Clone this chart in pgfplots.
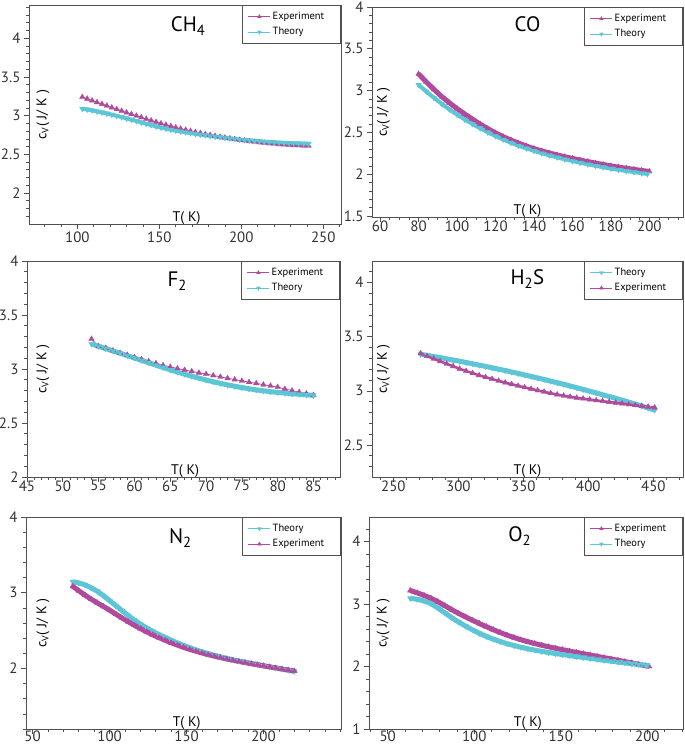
\documentclass[border=0pt]{standalone}
\usepackage{fontspec}
\setmainfont{PT Sans}
\usepackage{pgfplots}
\pgfplotsset{compat=1.18}
\definecolor{expc}{HTML}{B04A9C}
\definecolor{thc}{HTML}{5CC6D6}
\definecolor{framec}{HTML}{505050}
\pgfplotsset{
  panel/.style={
    scale only axis, anchor=south west,
    axis line style={framec, line width=0.8bp},
    tick pos=left, tick align=outside,
    major tick length=5bp, minor tick length=3bp,
    every tick/.style={framec, line width=0.7bp},
    tick label style={font=\fontsize{15}{15}\selectfont, text=black!80},
    /pgf/number format/assume math mode=true,
    legend style={at={(1,1)}, anchor=north east, draw=framec, line width=0.6bp,
      font=\fontsize{10.5}{11}\selectfont, inner xsep=6bp, inner ysep=5bp, row sep=2.5bp,
      cells={anchor=west}},
    legend image code/.code={\draw[mark repeat=2, mark phase=2] plot coordinates {(0bp,0bp) (11bp,0bp) (22bp,0bp)};},
    legend image post style={line width=0.6bp, mark size=2.2bp},
    clip=false,
  },
  exp/.style={color=expc, mark=triangle*, mark size=3.2bp, line width=1bp, mark options={line width=0.3bp}},
  th/.style={color=thc, mark=triangle*, mark size=3.2bp, line width=1bp, mark options={rotate=180, line width=0.3bp}},
}
\tikzset{
  ttl/.style={font=\fontsize{21}{21}\selectfont, anchor=base},
  ylab/.style={font=\fontsize{14}{14}\selectfont, rotate=90, anchor=center},
  xlab/.style={font=\fontsize{14}{14}\selectfont, anchor=base, yshift=2.5bp},
}
\newcommand{\LE}[1]{\makebox[60bp][l]{#1}}
\newcommand{\CV}{c\textsubscript{V}(\hspace{4bp}J/\hspace{4bp}K\hspace{4bp})}
\begin{document}
\begin{tikzpicture}
\path[use as bounding box] (0bp,0bp) rectangle (685bp,750bp);
% ---------------- CH4
\begin{axis}[panel, at={(29bp,526bp)}, width=312bp, height=219bp,
  xmin=70.5, xmax=260.8, ymin=1.6, ymax=4.43,
  xtick={100,150,200,250}, ytick={2,2.5,3,3.5,4},
  minor xtick={80,90,...,260}, minor ytick={1.7,1.8,...,4.41},
  xticklabel style={yshift=1bp}]
\addplot[exp] coordinates {(103,3.240) (106,3.218) (109,3.195) (112,3.173) (115,3.150) (118,3.128) (121,3.105) (124,3.083) (127,3.061) (130,3.040) (133,3.019) (136,2.998) (139,2.977) (142,2.957) (145,2.937) (148,2.918) (151,2.899) (154,2.881) (157,2.864) (160,2.847) (163,2.831) (166,2.816) (169,2.801) (172,2.787) (175,2.774) (178,2.761) (181,2.749) (184,2.737) (187,2.726) (190,2.715) (193,2.705) (196,2.695) (199,2.686) (202,2.677) (205,2.669) (208,2.661) (211,2.654) (214,2.647) (217,2.641) (220,2.635) (223,2.630) (226,2.626) (229,2.622) (232,2.618) (235,2.615) (238,2.612) (241,2.610)};
\addlegendentry{\LE{Experiment}}
\addplot[th, line width=4bp] coordinates {(103,3.090) (106,3.080) (109,3.068) (112,3.055) (115,3.042) (118,3.028) (121,3.013) (124,2.998) (127,2.982) (130,2.965) (133,2.948) (136,2.931) (139,2.913) (142,2.896) (145,2.879) (148,2.862) (151,2.846) (154,2.832) (157,2.819) (160,2.807) (163,2.796) (166,2.785) (169,2.775) (172,2.765) (175,2.756) (178,2.747) (181,2.738) (184,2.729) (187,2.721) (190,2.713) (193,2.705) (196,2.698) (199,2.691) (202,2.685) (205,2.679) (208,2.674) (211,2.669) (214,2.664) (217,2.660) (220,2.656) (223,2.652) (226,2.649) (229,2.646) (232,2.643) (235,2.641) (238,2.639) (241,2.637)};
\addlegendentry{\LE{Theory}}
\node[ttl] at (rel axis cs:0.51,1) [yshift=-27bp] {CH\textsubscript{4}};
\node[ylab] at (rel axis cs:0.045,0.5) {\CV};
\node[xlab] at (rel axis cs:0.505,0) {T( K)};
\end{axis}
% ---------------- CO
\begin{axis}[panel, at={(372bp,533bp)}, width=311bp, height=210bp,
  xmin=55.8, xmax=217.5, ymin=1.49, ymax=4.0,
  xtick={60,80,...,200}, ytick={1.5,2,...,4},
  minor xtick={60,65,...,215}, minor ytick={1.5,1.6,...,4.01},
  xticklabel style={yshift=5bp}]
\addplot[exp, line width=5bp] coordinates {(80,3.200) (84,3.105) (88,3.015) (92,2.930) (96,2.855) (100,2.785) (104,2.720) (108,2.660) (112,2.600) (116,2.545) (120,2.495) (124,2.450) (128,2.410) (132,2.372) (136,2.338) (140,2.307) (144,2.280) (148,2.255) (152,2.232) (156,2.210) (160,2.190) (164,2.170) (168,2.152) (172,2.134) (176,2.117) (180,2.101) (184,2.086) (188,2.072) (192,2.059) (196,2.046) (200,2.034)};
\addlegendentry{\LE{Experiment}}
\addplot[th, line width=4bp] coordinates {(80,3.070) (84,2.990) (88,2.915) (92,2.843) (96,2.776) (100,2.714) (104,2.656) (108,2.602) (112,2.551) (116,2.502) (120,2.457) (124,2.416) (128,2.378) (132,2.343) (136,2.311) (140,2.281) (144,2.253) (148,2.227) (152,2.203) (156,2.180) (160,2.159) (164,2.139) (168,2.120) (172,2.102) (176,2.085) (180,2.069) (184,2.054) (188,2.040) (192,2.027) (196,2.014) (199,2.004)};
\addlegendentry{\LE{Theory}}
\node[ttl] at (rel axis cs:0.50,1) [yshift=-25bp] {CO};
\node[ylab] at (rel axis cs:0.037,0.5) {\CV};
\node[xlab] at (rel axis cs:0.50,0) {T( K)};
\end{axis}
% ---------------- F2
\begin{axis}[panel, at={(27bp,273bp)}, width=313bp, height=216bp,
  xmin=45, xmax=88.7, ymin=2, ymax=4,
  xtick={45,50,...,85}, ytick={2,2.5,...,4},
  minor xtick={46,47,...,88}, minor ytick={2.1,2.2,...,3.91},
  xticklabel style={yshift=5bp}]
\addplot[exp, line width=0.8bp] coordinates {(54,3.278) (55,3.210) (56,3.194) (57,3.170) (58,3.148) (59,3.130) (60,3.108) (61,3.090) (62,3.071) (63,3.052) (64,3.034) (65,3.019) (66,3.005) (67,2.991) (68,2.978) (69,2.965) (70,2.953) (71,2.940) (72,2.927) (73,2.914) (74,2.902) (75,2.890) (76,2.878) (77,2.867) (78,2.855) (79,2.844) (80,2.832) (81,2.815) (82,2.800) (83,2.786) (84,2.772) (85,2.758)};
\addlegendentry{\LE{Experiment}}
\addplot[th, line width=5bp] coordinates {(54,3.232) (55,3.210) (56,3.189) (57,3.167) (58,3.146) (59,3.124) (60,3.102) (61,3.080) (62,3.058) (63,3.036) (64,3.014) (65,2.993) (66,2.972) (67,2.952) (68,2.933) (69,2.915) (70,2.898) (71,2.882) (72,2.867) (73,2.853) (74,2.840) (75,2.828) (76,2.817) (77,2.807) (78,2.798) (79,2.790) (80,2.783) (81,2.777) (82,2.771) (83,2.766) (84,2.761) (85,2.756)};
\addlegendentry{\LE{Theory}}
\node[ttl] at (rel axis cs:0.48,1) [yshift=-26bp] {F\textsubscript{2}};
\node[ylab] at (rel axis cs:0.051,0.5) {\CV};
\node[xlab] at (rel axis cs:0.505,0) {T( K)};
\end{axis}
% ---------------- H2S
\begin{axis}[panel, at={(372bp,273bp)}, width=311bp, height=216bp,
  xmin=233.6, xmax=472.8, ymin=2.204, ymax=4.2,
  xtick={250,300,...,450}, ytick={2.5,3,...,4},
  minor xtick={240,250,...,470}, minor ytick={2.3,2.4,...,4.11},
  xticklabel style={yshift=5bp}]
\addplot[th, line width=5bp] coordinates {(271,3.338) (276,3.328) (281,3.317) (286,3.307) (291,3.296) (296,3.285) (301,3.274) (306,3.262) (311,3.250) (316,3.238) (321,3.226) (326,3.213) (331,3.200) (336,3.188) (341,3.174) (346,3.161) (351,3.147) (356,3.133) (361,3.119) (366,3.105) (371,3.090) (376,3.075) (381,3.060) (386,3.045) (391,3.029) (396,3.013) (401,2.997) (406,2.981) (411,2.964) (416,2.948) (421,2.931) (426,2.914) (431,2.896) (436,2.878) (441,2.860) (446,2.842) (451,2.822)};
\addlegendentry{\LE{Theory}}
\addplot[exp, line width=2.5bp] coordinates {(271,3.346) (276,3.321) (281,3.297) (286,3.273) (291,3.250) (296,3.227) (301,3.204) (306,3.183) (311,3.163) (316,3.144) (321,3.126) (326,3.109) (331,3.092) (336,3.076) (341,3.061) (346,3.046) (351,3.032) (356,3.018) (361,3.004) (366,2.991) (371,2.978) (376,2.966) (381,2.955) (386,2.945) (391,2.936) (396,2.928) (401,2.920) (406,2.912) (411,2.905) (416,2.897) (421,2.890) (426,2.882) (431,2.874) (436,2.867) (441,2.860) (446,2.853) (451,2.846)};
\addlegendentry{\LE{Experiment}}
\node[ttl] at (rel axis cs:0.50,1) [yshift=-24bp] {H\textsubscript{2}S};
\node[ylab] at (rel axis cs:0.037,0.5) {\CV};
\node[xlab] at (rel axis cs:0.50,0) {T( K)};
\end{axis}
% ---------------- N2
\begin{axis}[panel, at={(26bp,21bp)}, width=315bp, height=212bp,
  xmin=45.7, xmax=250.3, ymin=1.2, ymax=4,
  xtick={50,100,...,200}, ytick={2,3,4},
  minor xtick={50,60,...,250}, minor ytick={1.2,1.4,...,3.81},
  xticklabel style={yshift=7bp}]
\addplot[th, line width=5bp] coordinates {(76,3.145) (80,3.130) (84,3.105) (88,3.065) (92,3.020) (96,2.960) (100,2.895) (104,2.830) (108,2.765) (112,2.700) (116,2.640) (120,2.585) (124,2.535) (128,2.490) (132,2.448) (136,2.410) (140,2.372) (144,2.337) (148,2.304) (152,2.274) (156,2.246) (160,2.220) (164,2.196) (168,2.174) (172,2.153) (176,2.133) (180,2.115) (184,2.098) (188,2.082) (192,2.067) (196,2.053) (200,2.035) (204,2.020) (208,2.005) (212,1.991) (216,1.977) (220,1.963)};
\addlegendentry{\LE{Theory}}
\addplot[exp, line width=5bp] coordinates {(76,3.085) (80,3.025) (84,2.968) (88,2.915) (92,2.866) (96,2.818) (100,2.770) (104,2.718) (108,2.667) (112,2.618) (116,2.571) (120,2.526) (124,2.484) (128,2.444) (132,2.407) (136,2.372) (140,2.339) (144,2.308) (148,2.279) (152,2.252) (156,2.227) (160,2.204) (164,2.182) (168,2.162) (172,2.143) (176,2.125) (180,2.108) (184,2.092) (188,2.077) (192,2.062) (196,2.048) (200,2.034) (204,2.020) (208,2.006) (212,1.992) (216,1.979) (220,1.966)};
\addlegendentry{\LE{Experiment}}
\node[ttl] at (rel axis cs:0.49,1) [yshift=-27bp] {N\textsubscript{2}};
\node[ylab] at (rel axis cs:0.054,0.5) {\CV};
\node[xlab] at (rel axis cs:0.51,0) {T( K)};
\end{axis}
% ---------------- O2
\begin{axis}[panel, at={(369bp,21bp)}, width=314bp, height=212bp,
  xmin=39.2, xmax=220.6, ymin=1, ymax=4.39,
  xtick={50,100,...,200}, ytick={1,2,3,4},
  minor xtick={40,50,...,220}, minor ytick={1.2,1.4,...,4.31},
  xticklabel style={yshift=7bp}]
\addplot[exp, line width=5bp] coordinates {(63,3.214) (67,3.178) (71,3.136) (75,3.090) (79,3.035) (83,2.972) (87,2.907) (91,2.848) (95,2.792) (99,2.738) (103,2.686) (107,2.636) (111,2.588) (115,2.542) (119,2.500) (123,2.462) (127,2.427) (131,2.395) (135,2.366) (139,2.339) (143,2.314) (147,2.291) (151,2.268) (155,2.246) (159,2.225) (163,2.204) (167,2.183) (171,2.162) (175,2.141) (179,2.120) (183,2.099) (187,2.078) (191,2.056) (195,2.034) (199,2.011) (201,2.000)};
\addlegendentry{\LE{Experiment}}
\addplot[th, line width=5bp] coordinates {(63,3.090) (67,3.075) (71,3.048) (75,3.005) (79,2.935) (83,2.857) (87,2.780) (91,2.710) (95,2.645) (99,2.585) (103,2.530) (107,2.480) (111,2.437) (115,2.398) (119,2.364) (123,2.334) (127,2.307) (131,2.283) (135,2.261) (139,2.241) (143,2.223) (147,2.206) (151,2.190) (155,2.174) (159,2.159) (163,2.144) (167,2.129) (171,2.114) (175,2.099) (179,2.085) (183,2.071) (187,2.057) (191,2.044) (195,2.031) (199,2.018) (200,2.015)};
\addlegendentry{\LE{Theory}}
\node[ttl] at (rel axis cs:0.48,1) [yshift=-25bp] {O\textsubscript{2}};
\node[ylab] at (rel axis cs:0.045,0.5) {\CV};
\node[xlab] at (rel axis cs:0.506,0) {T( K)};
\end{axis}
\end{tikzpicture}
\end{document}
